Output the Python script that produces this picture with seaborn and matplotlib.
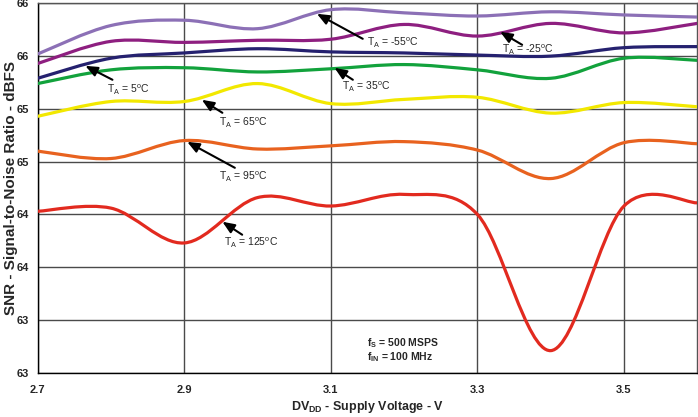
import numpy as np
import pandas as pd
import matplotlib
matplotlib.use("Agg")
import matplotlib.pyplot as plt
from matplotlib.path import Path
from matplotlib.patches import PathPatch
import seaborn as sns

# supply voltage sweep (V)
dvdd = [2.7, 2.8, 2.9, 3.0, 3.1, 3.2, 3.3, 3.4, 3.5, 3.6]

# SNR (dBFS), one list per temperature
snr_m55 = [65.72, 65.99, 66.04, 65.96, 66.14, 66.11, 66.08, 66.12, 66.09, 66.07]
snr_m25 = [65.63, 65.84, 65.83, 65.85, 65.86, 66.00, 65.89, 66.01, 65.92, 66.01]
snr_5 = [65.49, 65.68, 65.73, 65.77, 65.74, 65.73, 65.71, 65.70, 65.78, 65.79]
snr_35 = [65.44, 65.57, 65.59, 65.55, 65.58, 65.62, 65.57, 65.49, 65.68, 65.66]
snr_65 = [65.13, 65.27, 65.27, 65.44, 65.25, 65.29, 65.31, 65.16, 65.26, 65.22]
snr_95 = [64.80, 64.73, 64.90, 64.82, 64.85, 64.89, 64.81, 64.54, 64.88, 64.87]
snr_125 = [64.23, 64.26, 63.93, 64.36, 64.28, 64.39, 64.20, 62.91, 64.28, 64.31]

temps = ["-55", "-25", "5", "35", "65", "95", "125"]
colors = ["#8C70B6", "#8E1F80", "#25216F", "#12A23C", "#F2E800", "#E8621F", "#E22A1F"]

x_ticks = [2.7, 2.9, 3.1, 3.3, 3.5]
x_tick_labels = ["2.7", "2.9", "3.1", "3.3", "3.5"]
y_ticks = [62.7, 63.2, 63.7, 64.2, 64.7, 65.2, 65.7, 66.2]
y_tick_labels = ["63", "63", "64", "64", "65", "65", "66", "66"]

df = pd.DataFrame({"DVDD": dvdd, "-55": snr_m55, "-25": snr_m25, "5": snr_5,
                   "35": snr_35, "65": snr_65, "95": snr_95, "125": snr_125})
long_df = df.melt(id_vars="DVDD", var_name="temp", value_name="SNR")

sns.set_theme(style="white")
plt.rcParams["font.family"] = ["Liberation Sans", "DejaVu Sans"]
plt.rcParams["mathtext.fontset"] = "custom"
plt.rcParams["mathtext.rm"] = "Liberation Sans"
plt.rcParams["mathtext.bf"] = "Liberation Sans:bold"


def smooth_path(xs, ys):
    # excel style smoothed line: cubic bezier through the points
    pts = np.column_stack([xs, ys])
    n = len(pts)
    verts = [pts[0]]
    codes = [Path.MOVETO]
    for i in range(n - 1):
        p0 = pts[i - 1] if i > 0 else pts[i]
        p1 = pts[i]
        p2 = pts[i + 1]
        p3 = pts[i + 2] if i + 2 < n else pts[i + 1]
        verts += [p1 + (p2 - p0) / 6, p2 - (p3 - p1) / 6, p2]
        codes += [Path.CURVE4] * 3
    return Path(verts, codes)


fig = plt.figure(figsize=(6.98, 4.17), dpi=100)
ax = fig.add_axes([0.054, 0.106, 0.945, 0.886])

for t, c in zip(temps, colors):
    sub = long_df[long_df["temp"] == t]
    ax.add_patch(PathPatch(smooth_path(sub["DVDD"].values, sub["SNR"].values),
                           fill=False, edgecolor=c, lw=2.3, capstyle="round", zorder=3))

ax.set_xlim(2.7, 3.6)
ax.set_ylim(62.7, 66.2)
ax.set_xticks(x_ticks)
ax.set_xticklabels(x_tick_labels, fontweight="bold", fontsize=8)
ax.set_yticks(y_ticks)
ax.set_yticklabels(y_tick_labels, fontweight="bold", fontsize=8)
ax.tick_params(axis="both", length=3, width=1, color="#333333", pad=6, direction="out")
ax.tick_params(axis="y", pad=3)
ax.grid(True, color="#4a4a4a", lw=1)
for s in ax.spines.values():
    s.set_color("#555555")
    s.set_linewidth(1)
ax.spines["left"].set_color("black")
ax.spines["bottom"].set_color("black")

ax.set_xlabel(r"DV$_{\mathbf{DD}}$ - Supply Voltage - V", fontweight="bold", fontsize=9)
ax.xaxis.set_label_coords(0.5, -0.072)
ax.set_ylabel("SNR - Signal-to-Noise Ratio - dBFS", fontweight="bold", fontsize=11)
ax.yaxis.set_label_coords(-0.03, 0.5)

# annotation arrows: (tip, tail, text position)
notes = [
    ("-55", (3.081, 66.101), (3.1435, 65.864), (3.149, 65.826)),
    ("-25", (3.331, 65.930), (3.361, 65.807), (3.334, 65.760)),
    ("5", (2.765, 65.608), (2.802, 65.476), (2.794, 65.381)),
    ("35", (3.105, 65.589), (3.130, 65.476), (3.115, 65.409)),
    ("65", (2.924, 65.286), (2.952, 65.163), (2.948, 65.068)),
    ("95", (2.904, 64.888), (2.969, 64.642), (2.948, 64.557)),
    ("125", (2.952, 64.131), (2.979, 64.008), (2.954, 63.932)),
]
for t, tip, tail, pos in notes:
    ax.annotate("", xy=tip, xytext=tail,
                arrowprops=dict(arrowstyle="-|>,head_length=0.6,head_width=0.25",
                                color="black", lw=1.5, shrinkA=0, shrinkB=0), zorder=4)
    ax.text(pos[0], pos[1], r"T$_\mathrm{A}$ = " + t + r"$^\mathrm{o}$C",
            fontsize=7.5, ha="left", va="center", zorder=4)

ax.text(3.149, 62.985, r"f$_\mathbf{S}$ = 500 MSPS", fontsize=7.5, fontweight="bold",
        ha="left", va="center")
ax.text(3.149, 62.852, r"f$_\mathbf{IN}$ = 100 MHz", fontsize=7.5, fontweight="bold",
        ha="left", va="center")

fig.savefig("out.png", dpi=100)
